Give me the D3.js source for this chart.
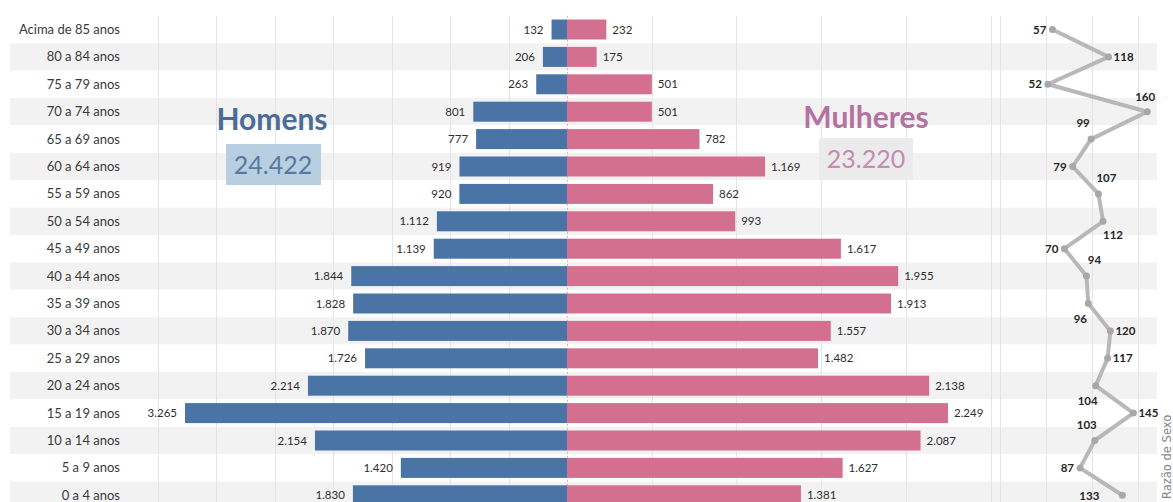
<!DOCTYPE html>
<html>
<head>
<meta charset="utf-8">
<script src="https://cdn.jsdelivr.net/npm/d3@7"></script>
<style>
  body { margin: 0; background: #ffffff; }
  svg { display: block; }
</style>
</head>
<body>
<svg id="chart" width="1173" height="502"></svg>
<script>
// ---------- data ----------
const ageGroups = ["Acima de 85 anos","80 a 84 anos","75 a 79 anos","70 a 74 anos","65 a 69 anos",
  "60 a 64 anos","55 a 59 anos","50 a 54 anos","45 a 49 anos","40 a 44 anos","35 a 39 anos",
  "30 a 34 anos","25 a 29 anos","20 a 24 anos","15 a 19 anos","10 a 14 anos","5 a 9 anos","0 a 4 anos"];
const men   = [132,206,263,801,777,919,920,1112,1139,1844,1828,1870,1726,2214,3265,2154,1420,1830];
const women = [232,175,501,501,782,1169,862,993,1617,1955,1913,1557,1482,2138,2249,2087,1627,1381];
const sexRatio = [57,118,52,160,99,79,107,112,70,94,96,120,117,104,145,103,87,133];
const menTotal = 24422;
const womenTotal = 23220;
const menTitle = "Homens";
const womenTitle = "Mulheres";
const ratioTitle = "Razão de Sexo";
const menTicks = [0,500,1000,1500,2000,2500,3000,3500];
const womenTicks = [0,500,1000,1500,2000,2500];
const ratioTicks = [0,50,100,150];
const ratioLabelPlacement = ["left","right","left","above","aboveLeft","left","aboveRight","belowRight",
  "left","aboveRight","belowLeft","right","right","belowLeft","right","aboveLeft","left","farLeft"];

// ---------- setup ----------
const W = 1173, H = 502;
const svg = d3.select("#chart");
const FONT = "Lato, 'Liberation Sans', Arial, sans-serif";
const pt = d3.formatLocale({decimal: ",", thousands: ".", grouping: [3], currency: ["R$", ""]});
const fmt = pt.format(",d");

const cx = 567;
const y = d3.scaleBand().domain(ageGroups).range([15.8, 15.8 + 27.4 * ageGroups.length]).paddingInner(0.27).paddingOuter(0.135);
const xMen = d3.scaleLinear().domain([0, 3500]).range([cx, 157.5]);
const xWomen = d3.scaleLinear().domain([0, 2500]).range([cx, 990.5]);
const xRatio = d3.scaleLinear().domain([0, 150]).range([1000, 1138]);
const step = y.step();
const rowTop = d => y(d) - y.paddingInner() * step / 2;

// background bands
svg.append("g").selectAll("rect").data(ageGroups).join("rect")
  .attr("x", 10).attr("width", 1147)
  .attr("y", d => rowTop(d)).attr("height", step)
  .attr("fill", (d, i) => i % 2 ? "#f2f2f2" : "#ffffff");

// gridlines
const gTop = rowTop(ageGroups[0]);
const grid = svg.append("g").attr("stroke", "#e4e4e4").attr("stroke-width", 1);
const gridX = [...menTicks.slice(1).map(t => xMen(t)), ...womenTicks.slice(1).map(t => xWomen(t)), ...ratioTicks.map(t => xRatio(t))];
grid.selectAll("line").data(gridX).join("line")
  .attr("x1", d => Math.round(d) + 0.5).attr("x2", d => Math.round(d) + 0.5)
  .attr("y1", gTop).attr("y2", H);

// center dashed axis
svg.append("line").attr("x1", cx + 0.5).attr("x2", cx + 0.5).attr("y1", gTop).attr("y2", H)
  .attr("stroke", "#bdbdbd").attr("stroke-dasharray", "2,2");

// row labels
svg.append("g").selectAll("text").data(ageGroups).join("text")
  .attr("x", 120).attr("y", d => y(d) + y.bandwidth() / 2).attr("dy", "0.35em")
  .attr("text-anchor", "end").attr("font-family", FONT).attr("font-size", 13).attr("fill", "#3a3a3a")
  .text(d => d);

// bars
svg.append("g").selectAll("rect").data(men).join("rect")
  .attr("x", d => xMen(d)).attr("width", d => cx - xMen(d))
  .attr("y", (d, i) => y(ageGroups[i])).attr("height", y.bandwidth())
  .attr("fill", "#4a74a6");
svg.append("g").selectAll("rect").data(women).join("rect")
  .attr("x", cx).attr("width", d => xWomen(d) - cx)
  .attr("y", (d, i) => y(ageGroups[i])).attr("height", y.bandwidth())
  .attr("fill", "#d4708f");

// value labels
svg.append("g").selectAll("text").data(men).join("text")
  .attr("x", d => xMen(d) - 8).attr("y", (d, i) => y(ageGroups[i]) + y.bandwidth() / 2).attr("dy", "0.35em")
  .attr("text-anchor", "end").attr("font-family", FONT).attr("font-size", 11.5).attr("fill", "#2e2e2e")
  .text(d => fmt(d));
svg.append("g").selectAll("text").data(women).join("text")
  .attr("x", d => xWomen(d) + 6).attr("y", (d, i) => y(ageGroups[i]) + y.bandwidth() / 2).attr("dy", "0.35em")
  .attr("text-anchor", "start").attr("font-family", FONT).attr("font-size", 11.5).attr("fill", "#2e2e2e")
  .text(d => fmt(d));

// titles
svg.append("text").attr("x", 272).attr("y", 130).attr("text-anchor", "middle")
  .attr("font-family", FONT).attr("font-weight", "bold").attr("font-size", 30).attr("fill", "#4b6d95")
  .text(menTitle);
svg.append("rect").attr("x", 226).attr("y", 144).attr("width", 95).attr("height", 41).attr("fill", "#b8cfe2");
svg.append("text").attr("x", 273).attr("y", 165).attr("dy", "0.35em").attr("text-anchor", "middle")
  .attr("font-family", FONT).attr("font-size", 25).attr("fill", "#587a9f")
  .text(fmt(menTotal));

svg.append("text").attr("x", 866).attr("y", 128).attr("text-anchor", "middle")
  .attr("font-family", FONT).attr("font-weight", "bold").attr("font-size", 30).attr("fill", "#b3729f")
  .text(womenTitle);
svg.append("rect").attr("x", 819).attr("y", 138).attr("width", 94).attr("height", 42).attr("fill", "#ebebeb");
svg.append("text").attr("x", 866).attr("y", 159).attr("dy", "0.35em").attr("text-anchor", "middle")
  .attr("font-family", FONT).attr("font-size", 25).attr("fill", "#c48bb3")
  .text(fmt(womenTotal));

// sex ratio line
const pts = sexRatio.map((v, i) => [xRatio(v), y(ageGroups[i]) + y.bandwidth() / 2]);
svg.append("path").attr("d", d3.line()(pts)).attr("fill", "none")
  .attr("stroke", "#b8b8b8").attr("stroke-width", 4).attr("stroke-linejoin", "round");
svg.append("g").selectAll("circle").data(pts).join("circle")
  .attr("cx", d => d[0]).attr("cy", d => d[1]).attr("r", 3.5).attr("fill", "#a8a8a8");

const place = {
  left:       {dx: -6,  dy: 0,   a: "end"},
  right:      {dx: 5,   dy: 0,   a: "start"},
  above:      {dx: -2,  dy: -15, a: "middle"},
  aboveLeft:  {dx: -8,  dy: -16, a: "middle"},
  aboveRight: {dx: 8,   dy: -16, a: "middle"},
  belowRight: {dx: 10,  dy: 14,  a: "middle"},
  belowLeft:  {dx: -8,  dy: 15,  a: "middle"},
  farLeft:    {dx: -33, dy: 1,   a: "middle"}
};
svg.append("g").selectAll("text").data(sexRatio).join("text")
  .attr("x", (d, i) => pts[i][0] + place[ratioLabelPlacement[i]].dx)
  .attr("y", (d, i) => pts[i][1] + place[ratioLabelPlacement[i]].dy)
  .attr("dy", "0.35em")
  .attr("text-anchor", (d, i) => place[ratioLabelPlacement[i]].a)
  .attr("font-family", FONT).attr("font-weight", "bold").attr("font-size", 11.5).attr("fill", "#262626")
  .text(d => d);

// side title
svg.append("text").attr("transform", "translate(1171,499) rotate(-90)")
  .attr("text-anchor", "start").attr("font-family", "'DejaVu Sans', sans-serif").attr("font-size", 11.5)
  .attr("fill", "#858585").text(ratioTitle);
</script>
</body>
</html>
